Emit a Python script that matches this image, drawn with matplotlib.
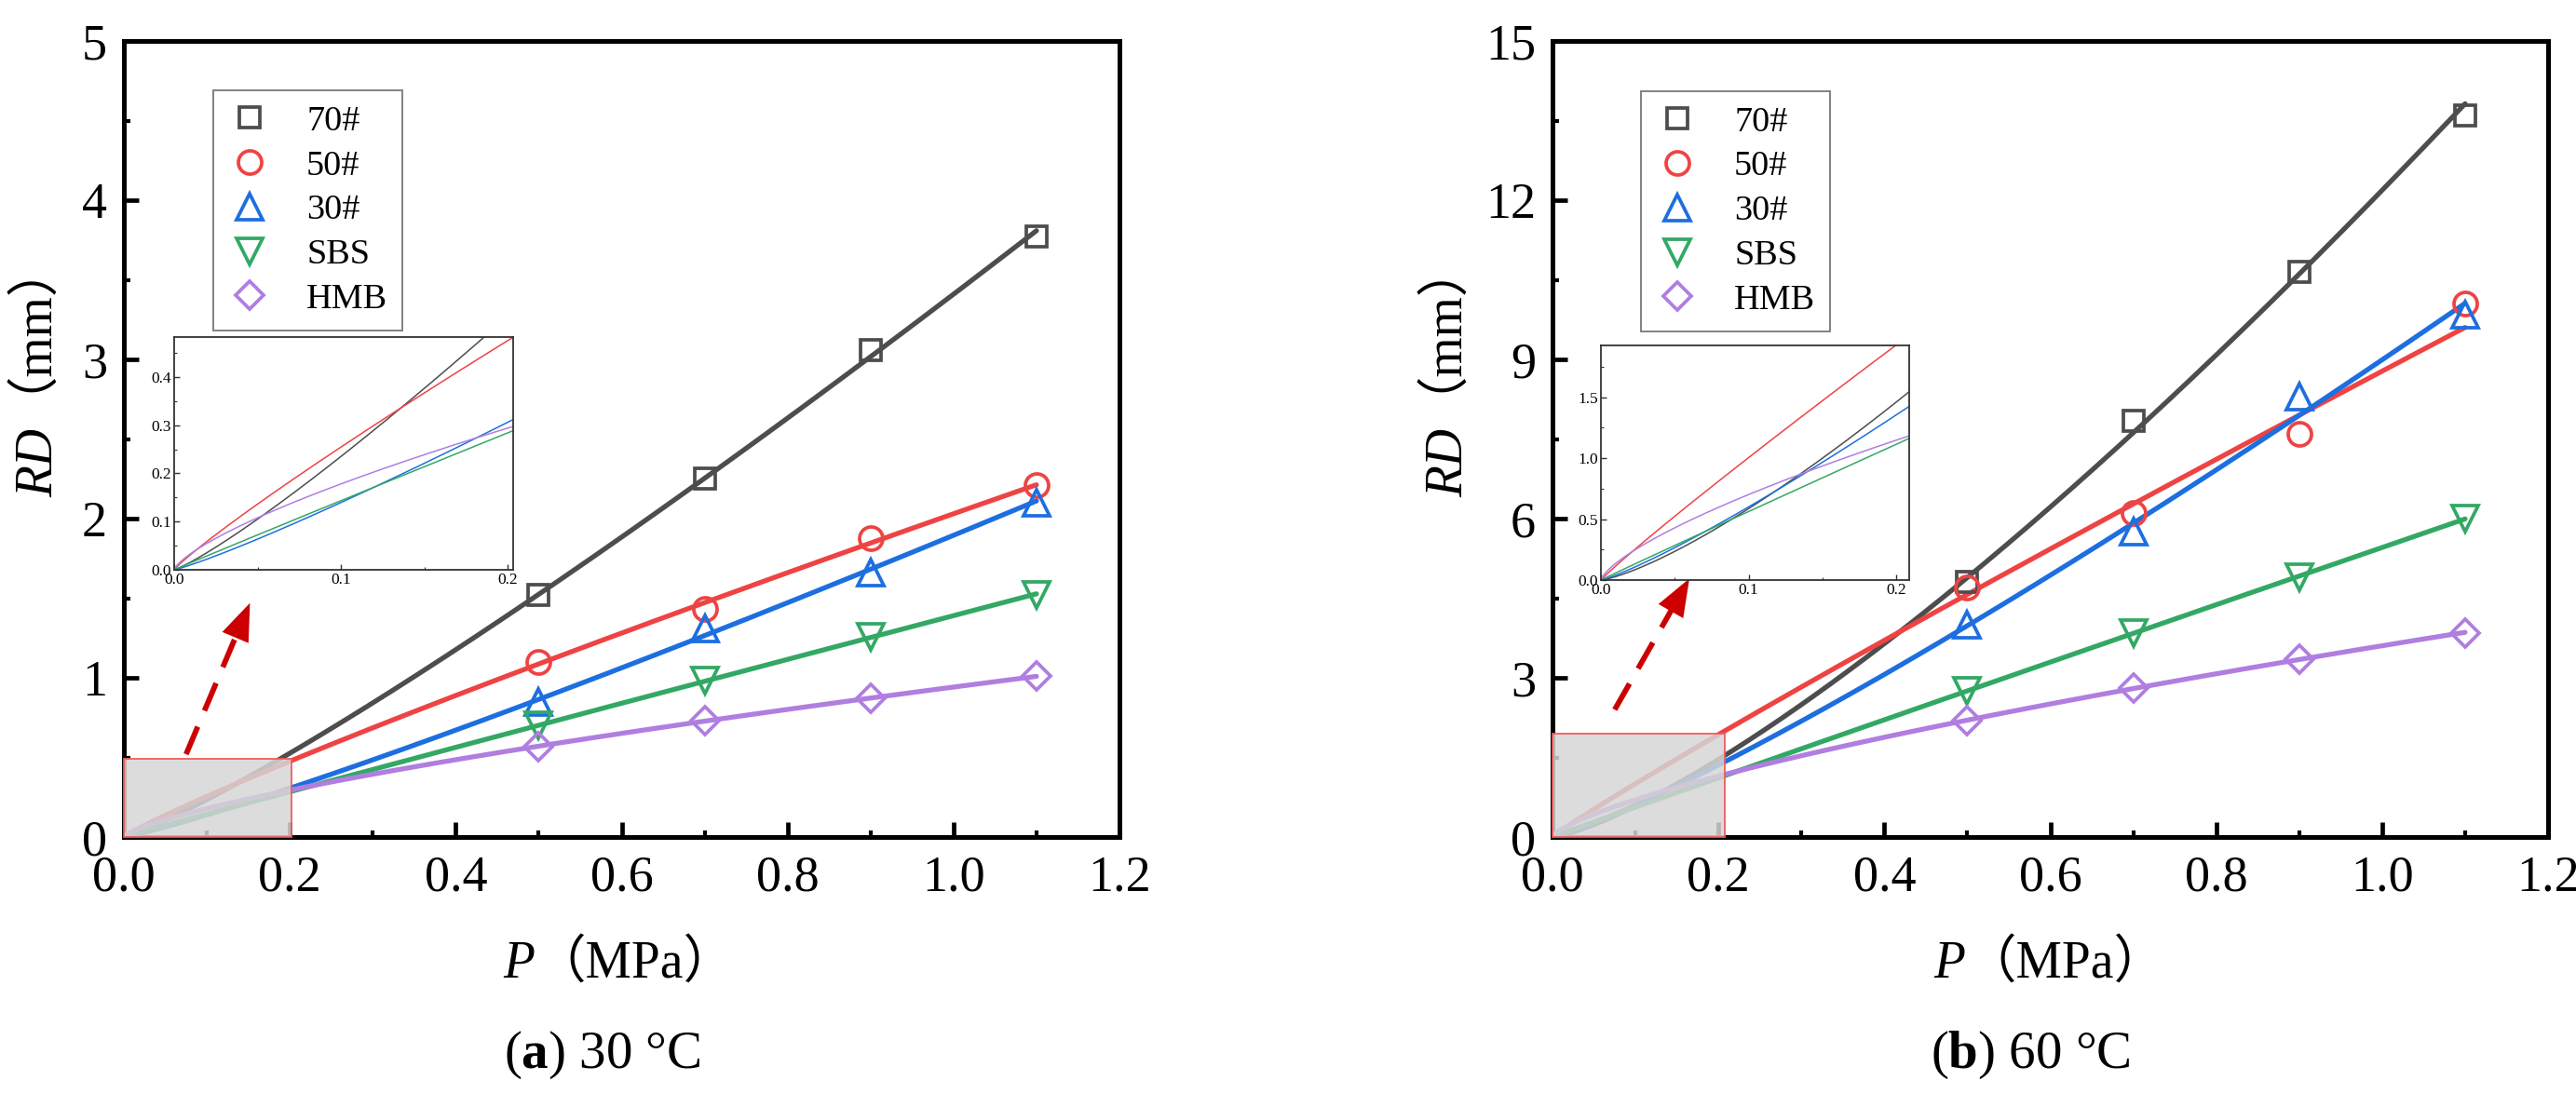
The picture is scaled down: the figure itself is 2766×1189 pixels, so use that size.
import numpy as np
import matplotlib
matplotlib.use("Agg")
import matplotlib.pyplot as plt
from matplotlib.patches import Rectangle
from matplotlib.ticker import MultipleLocator
from matplotlib.font_manager import FontProperties

plt.rcParams['font.family'] = ['Liberation Serif', 'Noto Sans CJK SC']
plt.rcParams['mathtext.fontset'] = 'custom'
plt.rcParams['mathtext.rm'] = 'Liberation Serif'
plt.rcParams['mathtext.it'] = 'Liberation Serif:italic'
plt.rcParams['mathtext.bf'] = 'Liberation Serif:bold'

# ---------------- data ----------------
P = [0.5, 0.7, 0.9, 1.1]
names = ['70#', '50#', '30#', 'SBS', 'HMB']
colors = ['#4d4d4d', '#ef4343', '#1d6fe0', '#33a865', '#b07ee0']
markers = ['s', 'o', '^', 'v', 'D']
msizes = [16, 18, 20.5, 20.5, 15.5]

# 30 °C
rd30_70 = [1.52, 2.25, 3.06, 3.77]
rd30_50 = [1.10, 1.43, 1.88, 2.21]
rd30_30 = [0.85, 1.31, 1.66, 2.10]
rd30_sbs = [0.70, 0.98, 1.26, 1.52]
rd30_hmb = [0.57, 0.73, 0.87, 1.01]
# 60 °C
rd60_70 = [4.80, 7.85, 10.65, 13.60]
rd60_50 = [4.70, 6.10, 7.60, 10.05]
rd60_30 = [4.00, 5.75, 8.30, 9.85]
rd60_sbs = [2.75, 3.85, 4.90, 6.00]
rd60_hmb = [2.20, 2.80, 3.35, 3.85]

panels = [
    dict(series=[rd30_70, rd30_50, rd30_30, rd30_sbs, rd30_hmb], ymax=5, ymaj=1, ymin=0.5,
         zoom=(0.2026, 0.49), inset_lim=(0.2032, 0.483), inset_ymaj=0.1, inset_ymin=0.05,
         yfmt='%d', caption=r"($\mathbf{a}$) 30 °C",
         arrow=((0.075, 0.52), (0.152, 1.47))),
    dict(series=[rd60_70, rd60_50, rd60_30, rd60_sbs, rd60_hmb], ymax=15, ymaj=3, ymin=1.5,
         zoom=(0.2076, 1.95), inset_lim=(0.2086, 1.925), inset_ymaj=0.5, inset_ymin=0.25,
         yfmt='%d', caption=r"($\mathbf{b}$) 60 °C",
         arrow=((0.075, 2.40), (0.165, 4.87))),
]

# ---------------- layout (pixels) ----------------
W, H = 2766, 1189
fig = plt.figure(figsize=(W / 100, H / 100), dpi=100)
fig.patch.set_facecolor('white')

ax_left_px = [133, 1667]
ax_w, ax_top, ax_bot = 1069, 44, 899
inset_px = [(187, 362, 551, 612), (1719, 371, 2050, 623)]
legend_px = [(229, 97), (1762, 98)]


def power_fit(x, y):
    b, lna = np.polyfit(np.log(x), np.log(y), 1)
    return np.exp(lna), b


for k, pn in enumerate(panels):
    ax = fig.add_axes([ax_left_px[k] / W, 1 - ax_bot / H, ax_w / W, (ax_bot - ax_top) / H])
    xs = np.linspace(0, 1.1, 300)
    handles = []
    for i, ys in enumerate(pn['series']):
        a, b = power_fit(np.array(P), np.array(ys))
        ax.plot(xs, a * xs ** b, color=colors[i], lw=3.8, zorder=3 + i * 0.1, solid_capstyle='round')
        h, = ax.plot(P, ys, linestyle='none', marker=markers[i], ms=msizes[i], mfc='none',
                     mec=colors[i], mew=2.7, zorder=4 + i * 0.1, label=names[i])
        handles.append(h)
    ax.set_xlim(0, 1.2)
    ax.set_ylim(0, pn['ymax'])
    ax.xaxis.set_major_locator(MultipleLocator(0.2))
    ax.xaxis.set_minor_locator(MultipleLocator(0.1))
    ax.yaxis.set_major_locator(MultipleLocator(pn['ymaj']))
    ax.yaxis.set_minor_locator(MultipleLocator(pn['ymin']))
    ax.xaxis.set_major_formatter(matplotlib.ticker.FormatStrFormatter('%.1f'))
    ax.yaxis.set_major_formatter(matplotlib.ticker.FormatStrFormatter(pn['yfmt']))
    for sp in ax.spines.values():
        sp.set_linewidth(3.6)
        sp.set_color('black')
    ax.tick_params(which='both', direction='in', top=False, right=False, labelsize=39)
    ax.tick_params(which='major', length=11.5, width=3.4)
    ax.tick_params(which='minor', length=5, width=3.0)
    ax.tick_params(axis='x', which='major', pad=14)
    ax.tick_params(axis='y', which='major', pad=13)

    # zoom box
    zx, zy = pn['zoom']
    ax.add_patch(Rectangle((0, 0), zx, zy, facecolor=(0.84, 0.84, 0.84, 0.85),
                           edgecolor=(0.94, 0.35, 0.35, 0.9), lw=1.4, zorder=10, clip_on=False))

    # dashed arrow
    (tx, ty), (hx, hy) = pn['arrow']
    frac = 0.78
    mx, my = tx + frac * (hx - tx), ty + frac * (hy - ty)
    bx, by = tx + (frac - 0.04) * (hx - tx), ty + (frac - 0.04) * (hy - ty)
    ax.plot([tx, mx], [ty, my], color='#cc0000', lw=4.2, dashes=(5.5, 3.2), zorder=11,
            solid_capstyle='butt', dash_capstyle='butt')
    ax.annotate('', xy=(hx, hy), xytext=(bx, by),
                arrowprops=dict(arrowstyle='-|>,head_length=1.45,head_width=0.55',
                                mutation_scale=20, color='#cc0000', lw=0,
                                shrinkA=0, shrinkB=0), zorder=12)

    # legend
    lx, ly = legend_px[k]
    leg = ax.legend(handles=handles, loc='upper left', bbox_to_anchor=(lx / W, 1 - ly / H),
                    bbox_transform=fig.transFigure, frameon=True, fancybox=False,
                    fontsize=27.5, borderpad=0.42, handlelength=1.2, handletextpad=1.0,
                    labelspacing=0.34, borderaxespad=0, numpoints=1)
    leg.get_frame().set_edgecolor('#555555')
    leg.get_frame().set_linewidth(1.3)
    leg.set_zorder(20)

    # inset
    x0, y0, x1, y1 = inset_px[k]
    ins = fig.add_axes([x0 / W, 1 - y1 / H, (x1 - x0) / W, (y1 - y0) / H])
    ins.set_zorder(15)
    xi = np.linspace(0, 0.22, 300)
    for i, ys in enumerate(pn['series']):
        a, b = power_fit(np.array(P), np.array(ys))
        ins.plot(xi, a * xi ** b, color=colors[i], lw=1.1)
    ins.set_xlim(0, pn['inset_lim'][0])
    ins.set_ylim(0, pn['inset_lim'][1])
    ins.xaxis.set_major_locator(MultipleLocator(0.1))
    ins.xaxis.set_minor_locator(MultipleLocator(0.05))
    ins.yaxis.set_major_locator(MultipleLocator(pn['inset_ymaj']))
    ins.yaxis.set_minor_locator(MultipleLocator(pn['inset_ymin']))
    ins.xaxis.set_major_formatter(matplotlib.ticker.FormatStrFormatter('%.1f'))
    ins.yaxis.set_major_formatter(matplotlib.ticker.FormatStrFormatter('%.1f'))
    for sp in ins.spines.values():
        sp.set_linewidth(1.3)
        sp.set_color('#333333')
    ins.tick_params(which='both', direction='in', top=False, right=False, labelsize=12.5,
                    color='#333333', pad=2)
    ins.tick_params(which='major', length=4, width=1.0)
    ins.tick_params(which='minor', length=2, width=0.8)

# ---------------- texts ----------------
fig.canvas.draw()
renderer = fig.canvas.get_renderer()


def bitmap_offset(s, prop):
    # horizontal offset of the first ink from the pen origin (px)
    try:
        font = renderer._prepare_font(prop)
        font.set_text(s, 0.0)
        return font.get_bitmap_offset()[0] / 64.0
    except Exception:
        return 0.0


FS = 40
prop_it = FontProperties(family=['Liberation Serif'], style='italic', size=FS)
prop_cjk = FontProperties(family=['Liberation Serif', 'Noto Sans CJK SC'], size=FS)
off_rd = bitmap_offset('RD', prop_it)
off_mm = bitmap_offset('（mm）', prop_cjk)

xlabel_left = [540, 2076]
ylabel_base_x = [56, 1570]
ylabel_bottom = 534
for k, pn in enumerate(panels):
    # x label: italic P + （MPa）
    t1 = fig.text(xlabel_left[k] / W, 1 - 1050 / H, 'P', style='italic', fontsize=FS,
                  ha='left', va='baseline')
    bb = t1.get_window_extent(renderer)
    fig.text(bb.x1 / W, 1 - 1050 / H, '（MPa）', fontsize=FS, ha='left', va='baseline')
    # y label: italic RD + （mm）, rotated, sharing one baseline
    bx = ylabel_base_x[k]
    y_rd = H - ylabel_bottom
    r1 = fig.text((bx - off_rd) / W, (y_rd + off_rd) / H, 'RD', style='italic',
                  fontsize=FS, rotation=90, rotation_mode='anchor', ha='left', va='baseline')
    rb = r1.get_window_extent(renderer)
    y_j = y_rd + (rb.y1 - rb.y0)
    fig.text((bx - off_mm) / W, (y_j + off_mm) / H, '（mm）', fontsize=FS,
             rotation=90, rotation_mode='anchor', ha='left', va='baseline')
    # caption
    cx = (ax_left_px[k] + ax_w / 2 - 21) / W
    fig.text(cx, 1 - 1147 / H, pn['caption'], fontsize=41, ha='center', va='baseline')

fig.savefig('out.png', dpi=100, facecolor='white')
